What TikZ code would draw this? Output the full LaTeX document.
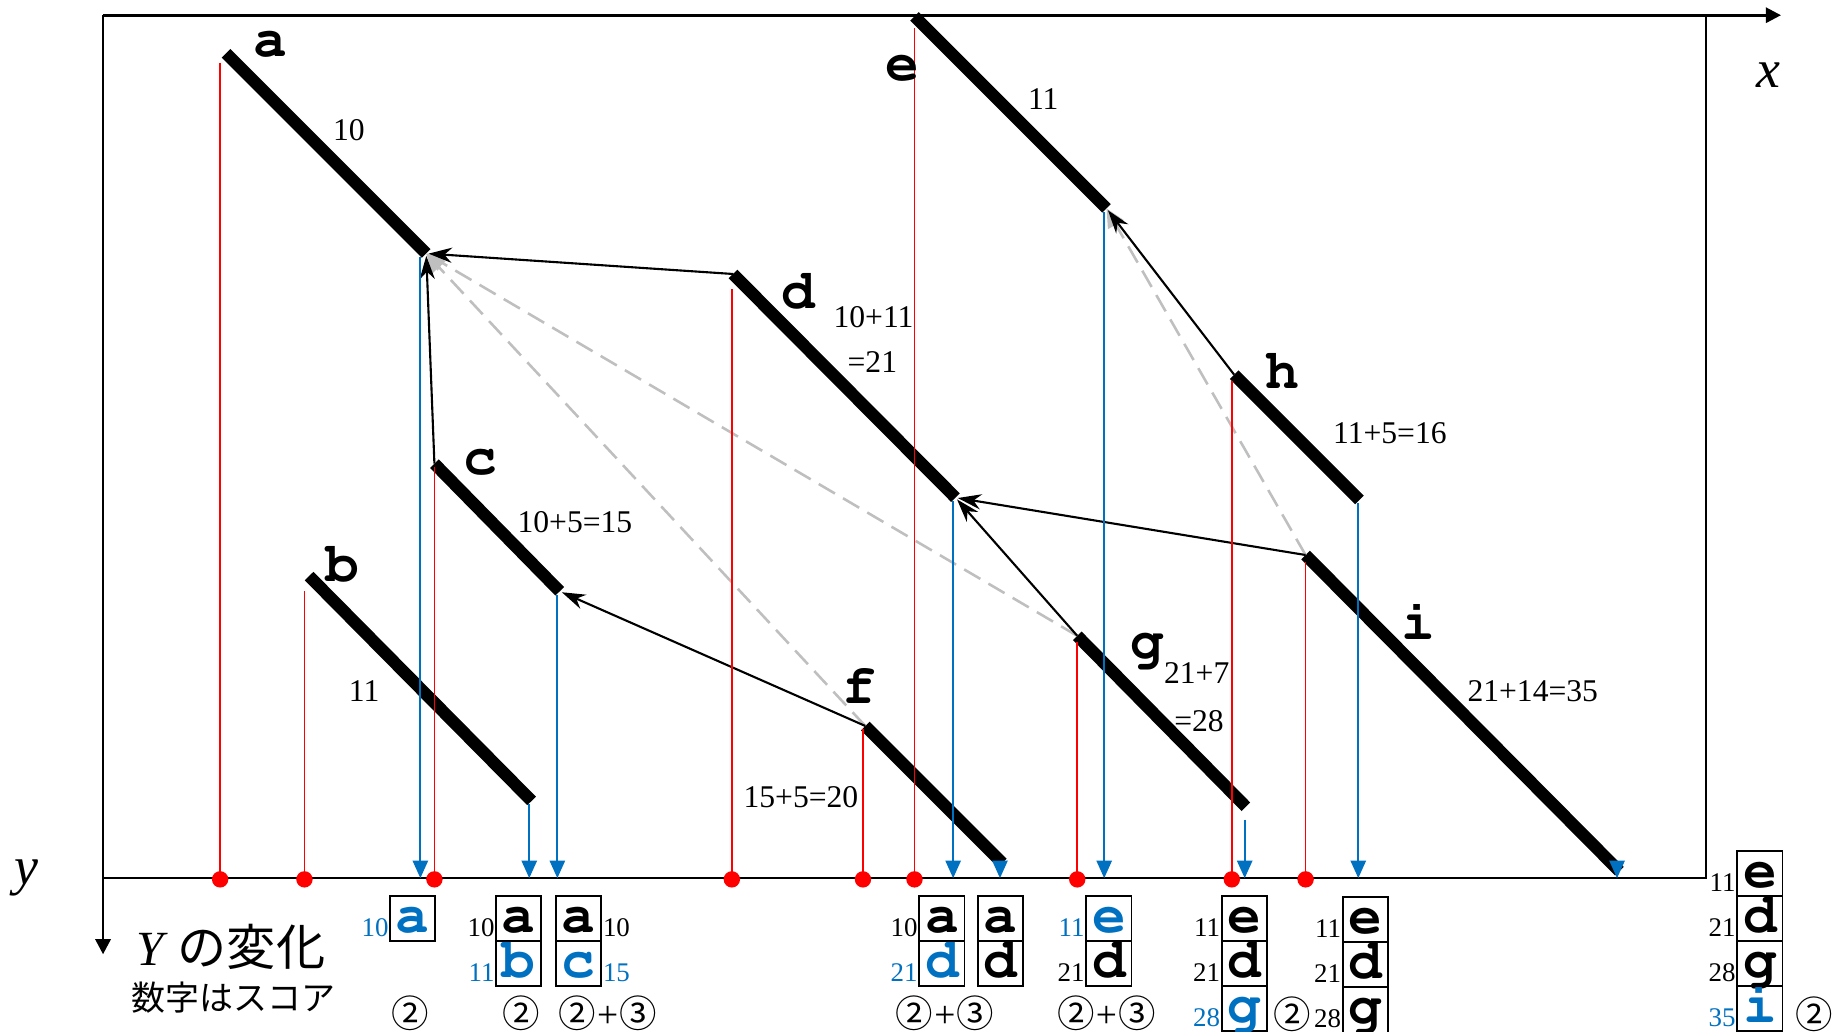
\documentclass[tikz,border=0pt]{standalone}
\usepackage[T1]{fontenc}
\usepackage{fontspec}
\setmainfont{Liberation Serif}
\newfontfamily\jpfont{Noto Sans CJK JP}
\usetikzlibrary{arrows.meta,positioning,calc}
\definecolor{ptblue}{HTML}{0070C0}
\definecolor{ptred}{HTML}{FF0000}
\definecolor{ptgrey}{HTML}{BFBFBF}
\newcommand\monofont{\fontencoding{T1}\fontfamily{pcr}\fontseries{b}\fontshape{n}\fontsize{24}{24}\selectfont}
\newcommand\plus{\kern0.5pt{\normalfont\fontsize{16}{16}\selectfont+}\kern0.5pt}

\begin{document}
\begin{tikzpicture}[x=0.5pt,y=-0.5pt,
    seg/.style={line width=5.2pt},
    drop/.style={ptred,line width=0.75pt},
    fall/.style={ptblue,line width=0.85pt,-{Triangle[length=7.5pt,width=6.5pt]}},
    link/.style={line width=0.9pt,-{Stealth[length=10pt,width=6.5pt]},shorten >=1pt},
    hint/.style={ptgrey,line width=1.1pt,dash pattern=on 8pt off 4pt,-{Triangle[length=8pt,width=7.5pt]}},
    tag/.style={font=\monofont,inner sep=0pt},
    score/.style={font=\fontsize{13.5}{14}\selectfont,inner sep=0pt},
    cell/.style={draw,line width=0.8pt,minimum width=19.3pt,minimum height=19.25pt,
      inner sep=0pt,outer sep=0pt,text height=12pt,text depth=0pt,font=\monofont},
    num/.style={font=\fontsize{11.5}{12}\selectfont,inner sep=0pt},
    circ/.style={font=\jpfont\fontsize{16}{16}\selectfont,inner sep=0pt}]
    \useasboundingbox (0,0) rectangle (1568,881);

    \coordinate (org)  at (88,13);
    \coordinate (xend) at (1521,13);
    \coordinate (yend) at (88,815);
    \coordinate (ne)   at (1457,13);
    \coordinate (base) at (88,750);
    \coordinate (se)   at (1457,750);
    \draw[line width=1pt] (base) -- (se) -- (ne);
    \draw[line width=1.2pt,-{Triangle[length=6.5pt,width=6.5pt]}] (org) -- (xend);
    \draw[line width=1.2pt,-{Triangle[length=6.5pt,width=6.5pt]}] (org) -- (yend);
    \node[font=\itshape\fontsize{23}{23}\selectfont,inner sep=0pt] (xlab) at (1510,64) {x};
    \node[font=\itshape\fontsize{23}{23}\selectfont,inner sep=0pt] (ylab) at (22.5,750) {y};

    \coordinate (s-a) at (193,45.5);  \coordinate (t-a) at (364,216.5);
    \coordinate (s-b) at (264,492);   \coordinate (t-b) at (454,684);
    \coordinate (s-c) at (371,396);   \coordinate (t-c) at (478,505);
    \coordinate (s-d) at (626,234);   \coordinate (t-d) at (816,425);
    \coordinate (s-e) at (781,14);    \coordinate (t-e) at (945,178);
    \coordinate (s-f) at (739,620);   \coordinate (t-f) at (856,737);
    \coordinate (s-g) at (920,543);   \coordinate (t-g) at (1064,689);
    \coordinate (s-h) at (1054,320);  \coordinate (t-h) at (1161,427);
    \coordinate (s-i) at (1115,474);  \coordinate (t-i) at (1383,744);
    \foreach \n in {a,b,c,d,e,f,g,h,i}
      \draw[seg] (s-\n) -- (t-\n);

    \draw[hint] (s-f) -- (t-a);
    \draw[hint] (s-g) -- (t-a);
    \draw[hint] (s-i) -- (t-e);
    \draw[link] (s-d) -- (t-a);
    \draw[link] (s-c) -- (t-a);
    \draw[link] (s-f) -- (t-c);
    \draw[link] (s-g) -- (t-d);
    \draw[link] (s-i) -- (t-d);
    \draw[link] (s-h) -- (t-e);

    \foreach \n/\o/\d in {a/-5/8,b/-4/13,c/0/3,d/-1/13,e/0/10,f/-2/3,g/0/5,h/-2/5,i/0/6} {
      \draw[drop] ($(s-\n)+(\o,\d)$) -- ($(s-\n |- base)+(\o,0)$);
      \fill[ptred] ($(s-\n |- base)+(\o,1)$) circle (3.5pt);
    }
    \foreach \n/\o/\d in {a/-5/3,b/-2/3,c/-2/3,d/-2/3,e/-2/3,g/-1/11,h/-1/3}
      \draw[fall] ($(t-\n)+(\o,\d)$) -- ($(t-\n |- base)+(\o,0)$);
    \foreach \n in {f,i}
      \draw[fall] ($(t-\n |- base)+(-2,-14)$) -- ($(t-\n |- base)+(-2,0)$);

    \node[tag] (la) at (231,38)  {a};
    \node[tag] (lb) at (292,482) {b};
    \node[tag] (lc) at (410,395) {c};
    \node[tag] (ld) at (682,249) {d};
    \node[tag] (le) at (771,58)  {e};
    \node[tag] (lf) at (734,586) {f};
    \node[tag] (lg) at (980,555) {g};
    \node[tag] (lh) at (1095,317) {h};
    \node[tag] (li) at (1211,530) {i};

    \node[score] (na)  at (298,111)  {10};
    \node[score] (nb)  at (311,590)  {11};
    \node[score] (nc)  at (491,446)  {10+5=15};
    \node[score] (nd)  at (746,271)  {10+11};
    \node[score] (nd2) at (745,309)  {=21};
    \node[score] (ne)  at (891,85)   {11};
    \node[score] (nf)  at (684,681)  {15+5=20};
    \node[score] (ng)  at (1022,575) {21+7};
    \node[score] (ng2) at (1024,616) {=28};
    \node[score] (nh)  at (1187,370) {11+5=16};
    \node[score] (ni)  at (1309,590) {21+14=35};

    \node[anchor=west,inner sep=0pt] (title) at (116,809)
      {{\itshape\fontsize{21}{21}\selectfont Y}\hspace{6pt}{\jpfont\fontsize{21}{21}\selectfont の変化}};
    \node[anchor=west,inner sep=0pt] (note) at (112,852)
      {\jpfont\fontsize{14.5}{15}\selectfont 数字はスコア};

    \node[cell,text=ptblue] (q1a) at (352.5,784.5) {a};
    \node[num,text=ptblue,anchor=base east] at ($(q1a.south west)+(-1,-4)$) {10};

    \node[cell] (q2a) at (443,784.5) {a};
    \node[cell,text=ptblue,below=0pt of q2a] (q2b) {b};
    \node[num,anchor=base east] at ($(q2a.south west)+(-1,-4)$) {10};
    \node[num,text=ptblue,anchor=base east] at ($(q2b.south west)+(-1,-4)$) {11};

    \node[cell] (q3a) at (494.3,784.5) {a};
    \node[cell,text=ptblue,below=0pt of q3a] (q3c) {c};
    \node[num,anchor=base west] at ($(q3a.south east)+(1,-4)$) {10};
    \node[num,text=ptblue,anchor=base west] at ($(q3c.south east)+(1,-4)$) {15};

    \node[cell] (q4a) at (804.4,784.5) {a};
    \node[cell,text=ptblue,below=0pt of q4a] (q4d) {d};
    \node[num,anchor=base east] at ($(q4a.south west)+(-1,-4)$) {10};
    \node[num,text=ptblue,anchor=base east] at ($(q4d.south west)+(-1,-4)$) {21};

    \node[cell] (q5a) at (854.6,784.5) {a};
    \node[cell,below=0pt of q5a] (q5d) {d};

    \node[cell,text=ptblue] (q6e) at (947,784.5) {e};
    \node[cell,below=0pt of q6e] (q6d) {d};
    \node[num,text=ptblue,anchor=base east] at ($(q6e.south west)+(-1,-4)$) {11};
    \node[num,anchor=base east] at ($(q6d.south west)+(-1,-4)$) {21};

    \node[cell] (q7e) at (1062.7,784.5) {e};
    \node[cell,below=0pt of q7e] (q7d) {d};
    \node[cell,text=ptblue,below=0pt of q7d] (q7g) {g};
    \node[num,anchor=base east] at ($(q7e.south west)+(-1,-4)$) {11};
    \node[num,anchor=base east] at ($(q7d.south west)+(-1,-4)$) {21};
    \node[num,text=ptblue,anchor=base east] at ($(q7g.south west)+(-1,-4)$) {28};

    \node[cell] (q8e) at (1166,785.5) {e};
    \node[cell,below=0pt of q8e] (q8d) {d};
    \node[cell,below=0pt of q8d] (q8g) {g};
    \node[num,anchor=base east] at ($(q8e.south west)+(-1,-4)$) {11};
    \node[num,anchor=base east] at ($(q8d.south west)+(-1,-4)$) {21};
    \node[num,anchor=base east] at ($(q8g.south west)+(-1,-4)$) {28};

    \node[cell] (q9e) at (1503,746) {e};
    \node[cell,below=0pt of q9e] (q9d) {d};
    \node[cell,below=0pt of q9d] (q9g) {g};
    \node[cell,text=ptblue,below=0pt of q9g] (q9i) {i};
    \node[num,anchor=base east] at ($(q9e.south west)+(-1,-4)$) {11};
    \node[num,anchor=base east] at ($(q9d.south west)+(-1,-4)$) {21};
    \node[num,anchor=base east] at ($(q9g.south west)+(-1,-4)$) {28};
    \node[num,text=ptblue,anchor=base east] at ($(q9i.south west)+(-1,-4)$) {35};

    \node[circ] (k1) at (350,865)    {②};
    \node[circ] (k2) at (445,865)    {②};
    \node[circ] (k3) at (519,865)    {②\plus③};
    \node[circ] (k4) at (807,865)    {②\plus③};
    \node[circ] (k6) at (945,865)    {②\plus③};
    \node[circ] (k7) at (1103.5,866) {②};
    \node[circ] (k9) at (1549,866)   {②};
  \end{tikzpicture}
\end{document}
